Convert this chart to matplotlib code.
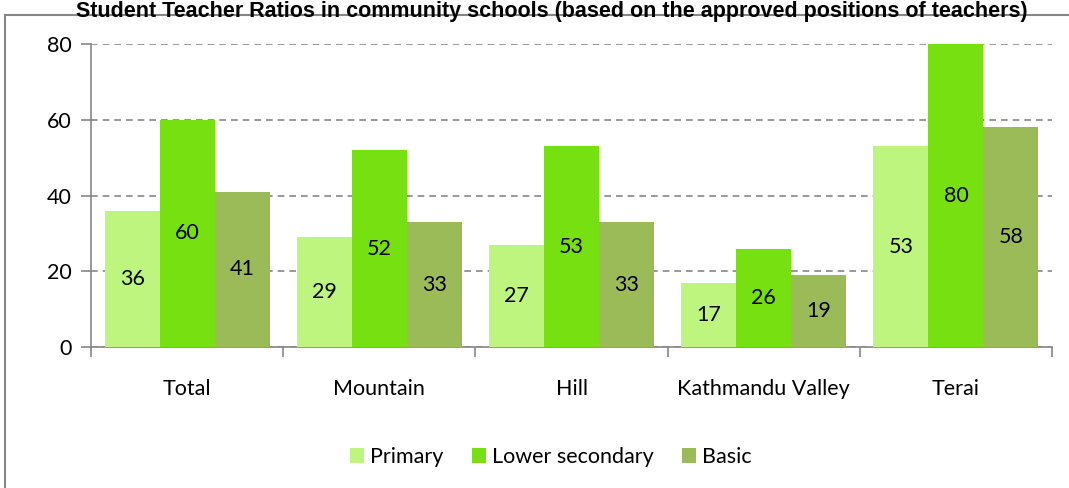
import numpy as np
import matplotlib.pyplot as plt
from matplotlib.patches import Rectangle

categories = ['Total', 'Mountain', 'Hill', 'Kathmandu Valley', 'Terai']
primary = [36, 29, 27, 17, 53]
lower_secondary = [60, 52, 53, 26, 80]
basic = [41, 33, 33, 19, 58]

series = [('Primary', primary, '#bdf57f'),
          ('Lower secondary', lower_secondary, '#77e010'),
          ('Basic', basic, '#9bbb59')]

plt.rcParams['font.family'] = ['Lato', 'DejaVu Sans']
W, H = 1069, 488
fs = 15.5
fig = plt.figure(figsize=(W / 100, H / 100), dpi=100, facecolor='white')

# outer chart frame, runs off the right and bottom edges
fig.patches.append(Rectangle((5 / W, -0.1), 1.2, 1 - 15 / H + 0.1, transform=fig.transFigure,
                             fill=False, edgecolor='#868686', linewidth=1.5))

fig.text(552 / W, 1 - 0.5 / H, 'Student Teacher Ratios in community schools (based on the approved positions of teachers)',
         ha='center', va='top', fontsize=15.5, fontweight='bold', family='Liberation Sans')

ax = fig.add_axes([91 / W, 1 - 347 / H, (1052 - 91) / W, (347 - 44) / H])

x = np.arange(len(categories))
w = 0.286
for i, (name, vals, color) in enumerate(series):
    bars = ax.bar(x + (i - 1) * w, vals, w, color=color, label=name, zorder=3)
    ax.bar_label(bars, labels=[str(v) for v in vals], label_type='center', fontsize=fs, zorder=4)

ax.set_xlim(-0.5, len(categories) - 0.5)
ax.set_ylim(0, 80)
ax.set_yticks([0, 20, 40, 60, 80])
ax.yaxis.grid(True, linestyle=(0, (4, 3)), color='#868686', linewidth=1.2, zorder=0)
ax.set_axisbelow(True)

for s in ['top', 'right']:
    ax.spines[s].set_visible(False)
for s in ['left', 'bottom']:
    ax.spines[s].set_color('#868686')
    ax.spines[s].set_linewidth(1.2)

ax.set_xticks(np.arange(len(categories) + 1) - 0.5)
ax.set_xticklabels([])
ax.set_xticks(x, minor=True)
ax.set_xticklabels(categories, minor=True, fontsize=fs)
ax.tick_params(axis='x', which='major', length=7, color='#868686', width=1.2, direction='out')
ax.tick_params(axis='x', which='minor', length=0, pad=23)
ax.tick_params(axis='y', length=7, color='#868686', width=1.2, labelsize=fs, pad=7)

fig.legend(loc='center', bbox_to_anchor=(551 / W, 1 - 457 / H), ncol=3, frameon=False,
           fontsize=fs, handlelength=0.65, handleheight=0.65, handletextpad=0.3, columnspacing=1.3)

fig.savefig('out.png', dpi=100, facecolor='white')
